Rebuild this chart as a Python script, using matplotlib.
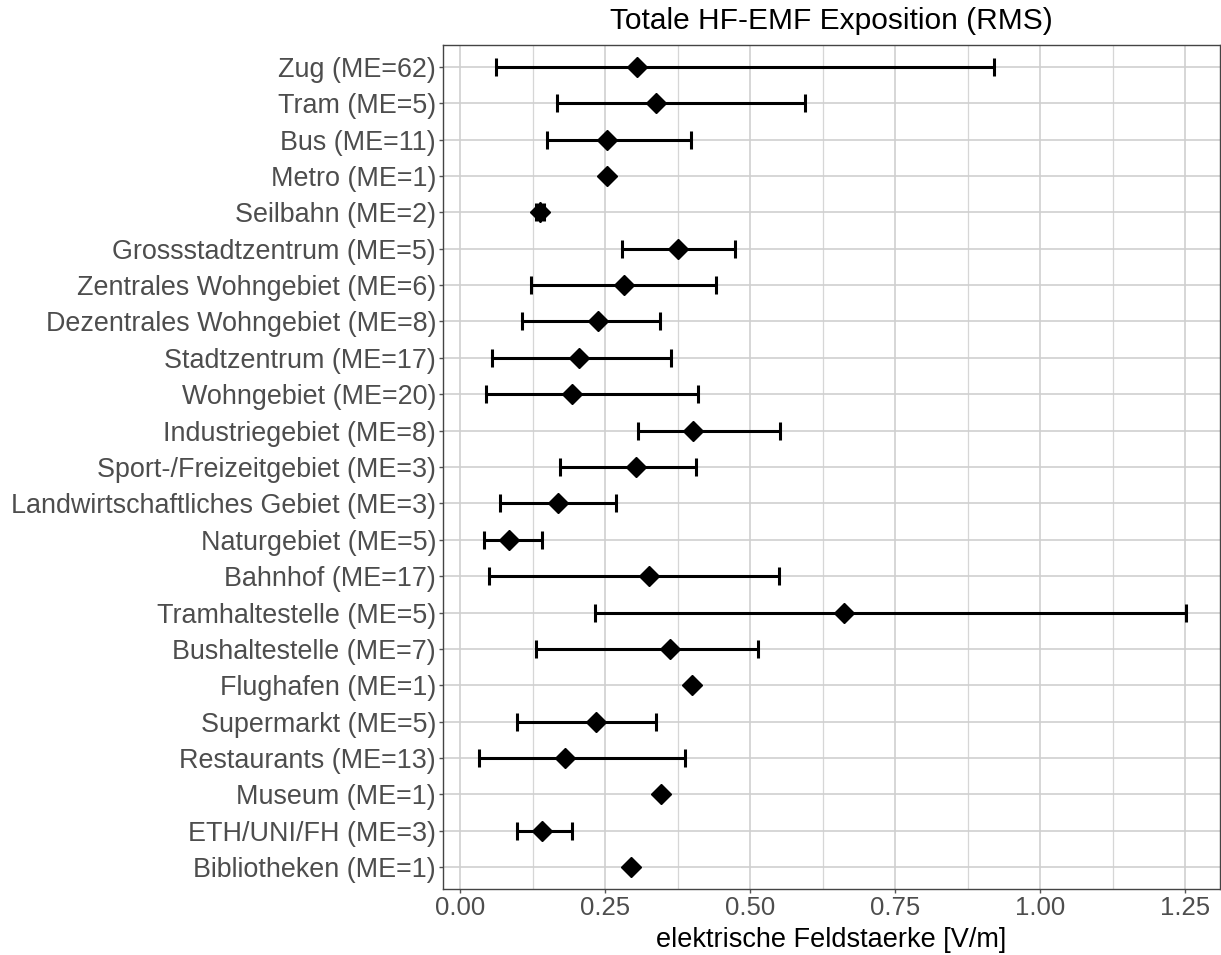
import numpy as np
import matplotlib
matplotlib.use('Agg')
import matplotlib.pyplot as plt
from matplotlib.ticker import MultipleLocator

plt.rcParams['font.family'] = ['Liberation Sans', 'DejaVu Sans']

# Kategorien (von oben nach unten)
kategorien = ['Zug (ME=62)', 'Tram (ME=5)', 'Bus (ME=11)', 'Metro (ME=1)',
              'Seilbahn (ME=2)', 'Grossstadtzentrum (ME=5)',
              'Zentrales Wohngebiet (ME=6)', 'Dezentrales Wohngebiet (ME=8)',
              'Stadtzentrum (ME=17)', 'Wohngebiet (ME=20)',
              'Industriegebiet (ME=8)', 'Sport-/Freizeitgebiet (ME=3)',
              'Landwirtschaftliches Gebiet (ME=3)', 'Naturgebiet (ME=5)',
              'Bahnhof (ME=17)', 'Tramhaltestelle (ME=5)',
              'Bushaltestelle (ME=7)', 'Flughafen (ME=1)', 'Supermarkt (ME=5)',
              'Restaurants (ME=13)', 'Museum (ME=1)', 'ETH/UNI/FH (ME=3)',
              'Bibliotheken (ME=1)']

# Mittelwert, untere und obere Grenze [V/m]
mittel = [0.305, 0.337, 0.253, 0.253, 0.138, 0.376, 0.282, 0.237, 0.205,
          0.192, 0.402, 0.303, 0.169, 0.083, 0.325, 0.661, 0.362, 0.400,
          0.233, 0.181, 0.346, 0.141, 0.294]
unten = [0.062, 0.166, 0.149, 0.253, 0.131, 0.279, 0.121, 0.107, 0.055,
         0.045, 0.306, 0.171, 0.069, 0.040, 0.049, 0.232, 0.130, 0.400,
         0.098, 0.032, 0.346, 0.098, 0.294]
oben = [0.921, 0.595, 0.397, 0.253, 0.144, 0.474, 0.441, 0.344, 0.363,
        0.409, 0.551, 0.406, 0.268, 0.141, 0.550, 1.252, 0.513, 0.400,
        0.337, 0.387, 0.346, 0.193, 0.294]

xticks = [0.00, 0.25, 0.50, 0.75, 1.00, 1.25]

W, H = 1221, 955
fig = plt.figure(figsize=(W / 100, H / 100), dpi=100)
ax = fig.add_axes([443 / W, (H - 889) / H, (1220 - 443) / W, (889 - 45) / H])

n = len(kategorien)
y = np.arange(n)[::-1]
m = np.array(mittel)
lo = m - np.array(unten)
hi = np.array(oben) - m

# Fehlerbalken nur wo vorhanden
mask = (lo + hi) > 0
ax.errorbar(m[mask], y[mask], xerr=[lo[mask], hi[mask]], fmt='none',
            ecolor='black', elinewidth=2.2, capsize=6.5, capthick=2.2, zorder=3)
ax.plot(m, y, 'D', color='black', markersize=10, zorder=4)

ax.set_xlim(-0.03, 1.31)
ax.set_ylim(-0.6, n - 1 + 0.6)
ax.set_yticks(y)
ax.set_yticklabels(kategorien)
ax.set_xticks(xticks)
ax.set_xticklabels(['%.2f' % v for v in xticks])
ax.xaxis.set_minor_locator(MultipleLocator(0.125))

ax.grid(True, which='major', color='#cfcfcf', lw=1.2, zorder=0)
ax.grid(True, which='minor', axis='x', color='#d6d6d6', lw=0.9, zorder=0)
ax.set_axisbelow(True)

for s in ax.spines.values():
    s.set_color('#444444')
    s.set_linewidth(1.0)

ax.tick_params(axis='both', which='major', length=3, width=1, color='#555555',
               labelcolor='#4d4d4d', pad=2)
ax.tick_params(axis='y', labelsize=19.4)
ax.tick_params(axis='x', labelsize=18.5)
ax.tick_params(axis='x', which='minor', length=0)

ax.set_xlabel('elektrische Feldstaerke [V/m]', fontsize=19.5, color='black', labelpad=5)
fig.text(((443 + 1220) / 2) / W, 1 - 21 / H, 'Totale HF-EMF Exposition (RMS)',
         fontsize=21.5, ha='center', va='center', color='black')

fig.savefig('out.png', dpi=100)
